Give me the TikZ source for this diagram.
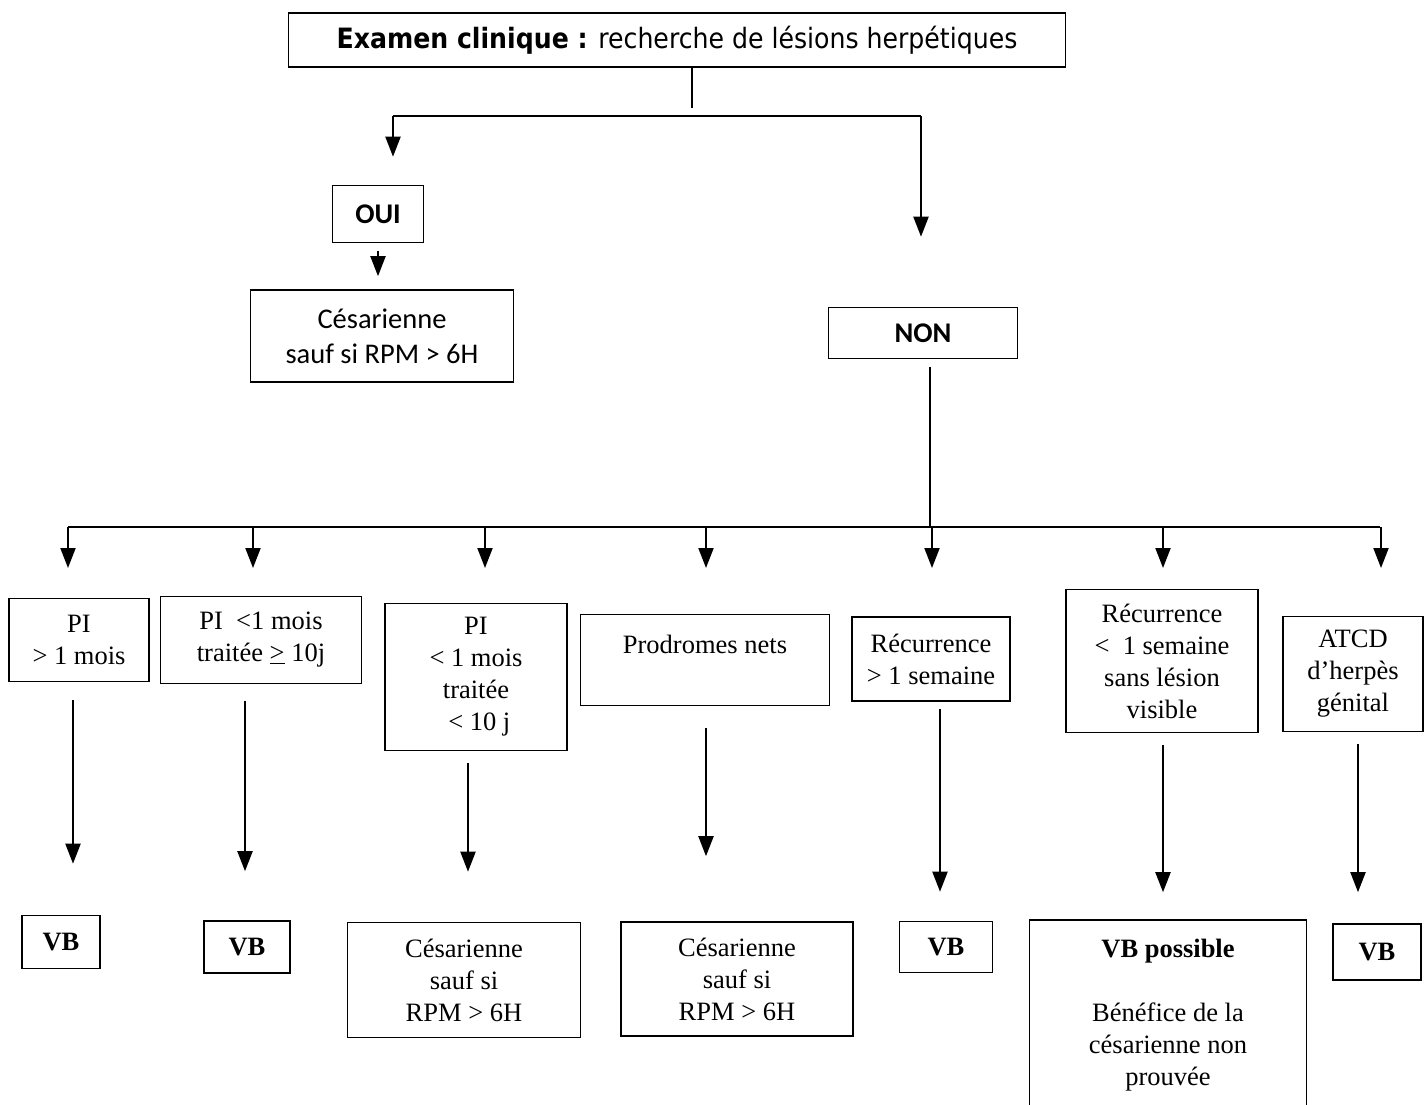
\documentclass[tikz,border=0pt]{standalone}
\usepackage{fontspec}
\usepackage{tikz}
\usetikzlibrary{arrows.meta,calc}
\newfontfamily\tahfont{DejaVu Sans Condensed}
\newfontfamily\calfont{Carlito}
\newfontfamily\timfont{Liberation Serif}
\newcommand{\titletext}{\tahfont\fontsize{28}{33}\selectfont}
\newcommand{\caltext}{\calfont\fontsize{28.5}{35}\selectfont}
\newcommand{\timtext}{\timfont\fontsize{26.5}{32}\selectfont}
\tikzset{
	box/.style={draw, line width=1.6pt, align=center, inner sep=0pt},
	link/.style={line width=2pt},
	flow/.style={line width=2pt, -{Triangle[width=15pt,length=20pt]}}
}
\begin{document}
\begin{tikzpicture}[x=1pt, y=-1pt]
	\useasboundingbox (0,0) rectangle (1424,1104);
%
	\node[box, minimum width=777, minimum height=54, font=\titletext] (title) at (677,40) {\textbf{Examen clinique :} recherche de lésions herpétiques};
	\node[box, minimum width=91, minimum height=57, font=\caltext] (oui) at (378,214) {\textbf{OUI}};
	\node[box, minimum width=263, minimum height=92, font=\caltext] (ces) at (382,336) {Césarienne\\sauf si RPM > 6H};
	\node[box, minimum width=189, minimum height=51, font=\caltext] (non) at (923,333) {\textbf{NON}};
%
	\coordinate (yesfork) at (393,116);
	\coordinate (nofork) at (921,116);
	\coordinate (busL) at (68,527);
	\coordinate (busR) at (1380,527);
	\coordinate (busmid) at (930,527);
	\draw[link, shorten >=8pt] ([xshift=15pt]title.south) -- ([xshift=15pt]title.south |- yesfork);
	\draw[link] (yesfork) -- (nofork);
	\draw[flow, shorten >=28pt] (yesfork) -- (yesfork |- oui.north);
	\draw[flow, shorten >=70pt] (nofork) -- (nofork |- non.north);
	\draw[flow, shorten <=8pt, shorten >=13pt] (oui.south) -- (oui.south |- ces.north);
	\draw[link, shorten <=8pt] (non.south -| busmid) -- (busmid);
	\draw[link] (busL) -- (busR);
%
	\node[box, minimum width=140, minimum height=83, font=\timtext] (c1) at (79,640) {PI\\> 1 mois};
	\node[box, minimum width=201, minimum height=87, font=\timtext] (c2) at (261,640) {PI~ <1 mois\\traitée \underline{>} 10j};
	\node[box, minimum width=182, minimum height=147, font=\timtext] (c3) at (476,677) {PI\\< 1 mois\\traitée\\~< 10 j};
	\node[box, minimum width=249, minimum height=91, font=\timtext] (c4) at (705,660) {Prodromes nets\\~};
	\node[box, minimum width=158, minimum height=84, font=\timtext] (c5) at (931,659) {Récurrence\\> 1 semaine};
	\node[box, minimum width=192, minimum height=143, font=\timtext] (c6) at (1162,661) {Récurrence\\<~ 1 semaine\\sans lésion\\visible};
	\node[box, minimum width=140, minimum height=115, font=\timtext] (c7) at (1353,674) {ATCD\\d’herpès\\génital};
%
	\foreach \n/\x in {1/68, 2/253, 3/485, 4/706, 5/932, 6/1163, 7/1381}{
		\coordinate (bus\n) at (\x,527);
		\coordinate (tip\n) at (\x,568);
		\draw[flow] (bus\n) -- (tip\n);
	}
%
	\node[box, minimum width=78, minimum height=53, font=\timtext] (r1) at (61,942) {\textbf{VB}};
	\node[box, minimum width=86, minimum height=52, font=\timtext] (r2) at (247,947) {\textbf{VB}};
	\node[box, minimum width=233, minimum height=115, font=\timtext] (r3) at (464,980) {Césarienne\\sauf si\\RPM > 6H};
	\node[box, minimum width=232, minimum height=114, font=\timtext] (r4) at (737,979) {Césarienne\\sauf si\\RPM > 6H};
	\node[box, minimum width=93, minimum height=51, font=\timtext] (r5) at (946,947) {\textbf{VB}};
	\node[box, minimum width=277, minimum height=190, font=\timtext] (r6) at (1168,1015) {\textbf{VB possible}\\~\\Bénéfice de la\\césarienne non\\prouvée};
	\node[box, minimum width=88, minimum height=56, font=\timtext] (r7) at (1377,952) {\textbf{VB}};
%
	\foreach \n/\dx/\s/\e in {1/-6/18/51, 2/-16/17/49, 3/-8/12/50, 4/1/22/65, 5/9/7/29, 6/1/12/27, 7/5/12/31}{
		\draw[flow, shorten <=\s pt, shorten >=\e pt] ([xshift=\dx pt]c\n.south) -- ([xshift=\dx pt]c\n.south |- r\n.north);
	}
\end{tikzpicture}
\end{document}
